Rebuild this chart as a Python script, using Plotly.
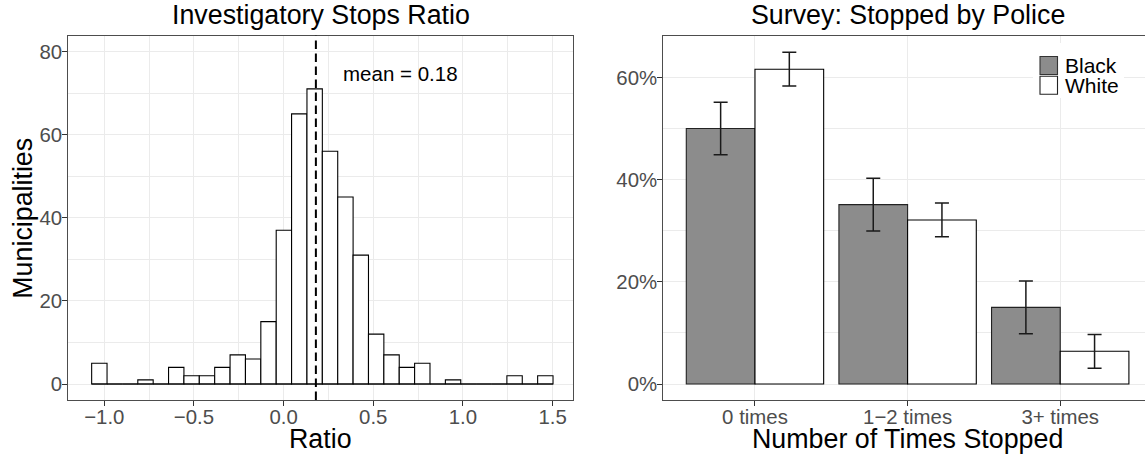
import plotly.graph_objects as go

# ---------------- data ----------------
# Left: histogram of investigatory stops ratio (30 bins)
hist_counts = [5, 0, 0, 1, 0, 4, 2, 2, 4, 7, 6, 15, 37, 65, 71, 56, 45, 31, 12, 7,
               4, 5, 0, 1, 0, 0, 0, 2, 0, 2]
bin_start = -1.0705
bin_width = 0.08577
mean_ratio = 0.18
mean_label = "mean = 0.18"

# Right: survey, stopped by police
categories = ["0 times", "1\u22122 times", "3+ times"]
black_vals = [0.500, 0.351, 0.150]
black_err = [0.0515, 0.0515, 0.0515]
white_vals = [0.616, 0.321, 0.064]
white_err = [0.033, 0.033, 0.033]
series_names = ["Black", "White"]

left_title = "Investigatory Stops Ratio"
right_title = "Survey: Stopped by Police"

# ---------------- derived ----------------
bin_centers = [bin_start + bin_width * (i + 0.5) for i in range(len(hist_counts))]
bin_edges_ends = [bin_start, bin_start + bin_width * len(hist_counts)]

W, H = 1145, 456
FONT = "Liberation Sans, Arial, Helvetica, sans-serif"
TICK_COLOR = "#4D4D4D"
GRID = "#EBEBEB"
BORDER = "#4d4d4d"
GRAY_FILL = "#8C8C8C"
TITLE_SIZE = 26.8
TICK_SIZE = 20.4


def px_x(p):
    return p / W


def px_y(p):
    return 1 - p / H


fig = go.Figure()

# histogram bars
fig.add_trace(go.Bar(
    x=bin_centers, y=hist_counts, width=bin_width,
    marker=dict(color="white", line=dict(color="black", width=1.1)),
    xaxis="x", yaxis="y", showlegend=False, hoverinfo="x+y",
))
# baseline for empty bins
fig.add_trace(go.Scatter(
    x=bin_edges_ends, y=[0, 0], mode="lines",
    line=dict(color="black", width=1.1),
    xaxis="x", yaxis="y", showlegend=False, hoverinfo="skip",
))

# survey bars
fig.add_trace(go.Bar(
    x=categories, y=black_vals, name=series_names[0],
    marker=dict(color=GRAY_FILL, line=dict(color="#222222", width=1.1)),
    error_y=dict(type="data", array=black_err, color="#1a1a1a", thickness=1.5, width=7),
    xaxis="x2", yaxis="y2", showlegend=False,
))
fig.add_trace(go.Bar(
    x=categories, y=white_vals, name=series_names[1],
    marker=dict(color="white", line=dict(color="black", width=1.1)),
    error_y=dict(type="data", array=white_err, color="#1a1a1a", thickness=1.5, width=7),
    xaxis="x2", yaxis="y2", showlegend=False,
))

axis_common = dict(
    showline=True, linecolor=BORDER, linewidth=1.3,
    ticks="outside", ticklen=5, tickwidth=1.1, tickcolor="#333333",
    tickfont=dict(family=FONT, size=TICK_SIZE, color=TICK_COLOR),
    showgrid=True, gridcolor=GRID, gridwidth=1.1,
    zeroline=False, fixedrange=True, automargin=False,
)
x_common = dict(axis_common, ticklabelstandoff=-7)
y_common = dict(axis_common, ticklabelstandoff=-4)

fig.update_layout(
    template="none",
    width=W, height=H,
    margin=dict(l=0, r=0, t=0, b=0, pad=0),
    paper_bgcolor="white", plot_bgcolor="white",
    barmode="group", bargap=0.1, bargroupgap=0,
    font=dict(family=FONT, color="black"),
    xaxis=dict(x_common, domain=[px_x(68.3), px_x(573.3)], range=[-1.2008, 1.6157],
               tickmode="array", tickvals=[-1.0, -0.5, 0.0, 0.5, 1.0, 1.5],
               ticktext=["\u22121.0", "\u22120.5", "0.0", "0.5", "1.0", "1.5"],
               minor=dict(tickvals=[-0.75, -0.25, 0.25, 0.75, 1.25], showgrid=True,
                          gridcolor=GRID, gridwidth=0.6, ticks=""),
               mirror=True, anchor="y"),
    yaxis=dict(y_common, domain=[1 - 400 / H, 1 - 35.7 / H], range=[-3.85, 83.8],
               tickmode="array", tickvals=[0, 20, 40, 60, 80],
               minor=dict(tickvals=[10, 30, 50, 70], showgrid=True,
                          gridcolor=GRID, gridwidth=0.6, ticks=""),
               mirror=True, anchor="x"),
    xaxis2=dict(x_common, domain=[px_x(663.4), 1.0], range=[-0.6, 2.5554],
                type="category", mirror=True, anchor="y2"),
    yaxis2=dict(y_common, domain=[1 - 400 / H, 1 - 35.7 / H], range=[-0.0313, 0.6816],
                tickmode="array", tickvals=[0, 0.2, 0.4, 0.6], tickformat=".0%",
                minor=dict(tickvals=[0.1, 0.3, 0.5], showgrid=True,
                           gridcolor=GRID, gridwidth=0.6, ticks=""),
                mirror=False, anchor="x2"),
)

shapes = [
    # mean line
    dict(type="line", xref="x", yref="y domain", x0=mean_ratio, x1=mean_ratio, y0=0, y1=1,
         line=dict(color="black", width=2, dash="8.5px,4.5px"), layer="above"),
    # legend background
    dict(type="rect", xref="paper", yref="paper",
         x0=px_x(1033), x1=px_x(1124), y0=px_y(98), y1=px_y(43),
         fillcolor="white", line=dict(width=0), layer="above"),
    # legend keys
    dict(type="rect", xref="paper", yref="paper",
         x0=px_x(1040), x1=px_x(1057.5), y0=px_y(74.5), y1=px_y(56.5),
         fillcolor=GRAY_FILL, line=dict(color="#333333", width=1.1), layer="above"),
    dict(type="rect", xref="paper", yref="paper",
         x0=px_x(1040), x1=px_x(1057.5), y0=px_y(94.3), y1=px_y(76.3),
         fillcolor="white", line=dict(color="#222222", width=1.1), layer="above"),
]
fig.update_layout(shapes=shapes)

ann = [
    dict(text=left_title, x=px_x(320.8), y=px_y(14.5), xref="paper", yref="paper",
         showarrow=False, xanchor="center", yanchor="middle",
         font=dict(family=FONT, size=TITLE_SIZE, color="black")),
    dict(text=right_title, x=px_x(907.6), y=px_y(14.5), xref="paper", yref="paper",
         showarrow=False, xanchor="center", yanchor="middle",
         font=dict(family=FONT, size=TITLE_SIZE, color="black")),
    dict(text="Ratio", x=px_x(320.8), y=px_y(438.5), xref="paper", yref="paper",
         showarrow=False, xanchor="center", yanchor="middle",
         font=dict(family=FONT, size=TITLE_SIZE, color="black")),
    dict(text="Number of Times Stopped", x=px_x(907.6), y=px_y(438.5), xref="paper", yref="paper",
         showarrow=False, xanchor="center", yanchor="middle",
         font=dict(family=FONT, size=TITLE_SIZE, color="black")),
    dict(text="Municipalities", x=px_x(22.8), y=px_y(217.9), xref="paper", yref="paper",
         showarrow=False, xanchor="center", yanchor="middle", textangle=-90,
         font=dict(family=FONT, size=TITLE_SIZE, color="black")),
    dict(text=mean_label, x=0.65, y=74.7, xref="x", yref="y",
         showarrow=False, xanchor="center", yanchor="middle",
         font=dict(family=FONT, size=20.5, color="black")),
    dict(text=series_names[0], x=px_x(1063), y=px_y(65.8), xref="paper", yref="paper",
         showarrow=False, xanchor="left", yanchor="middle",
         font=dict(family=FONT, size=21, color="black")),
    dict(text=series_names[1], x=px_x(1063), y=px_y(85.8), xref="paper", yref="paper",
         showarrow=False, xanchor="left", yanchor="middle",
         font=dict(family=FONT, size=21, color="black")),
]
fig.update_layout(annotations=ann)

fig.write_html(
    "out.html",
    config={"displayModeBar": False},
    post_script="document.body.style.margin='0px';document.body.style.padding='0px';"
                "document.documentElement.style.overflow='hidden';",
)
